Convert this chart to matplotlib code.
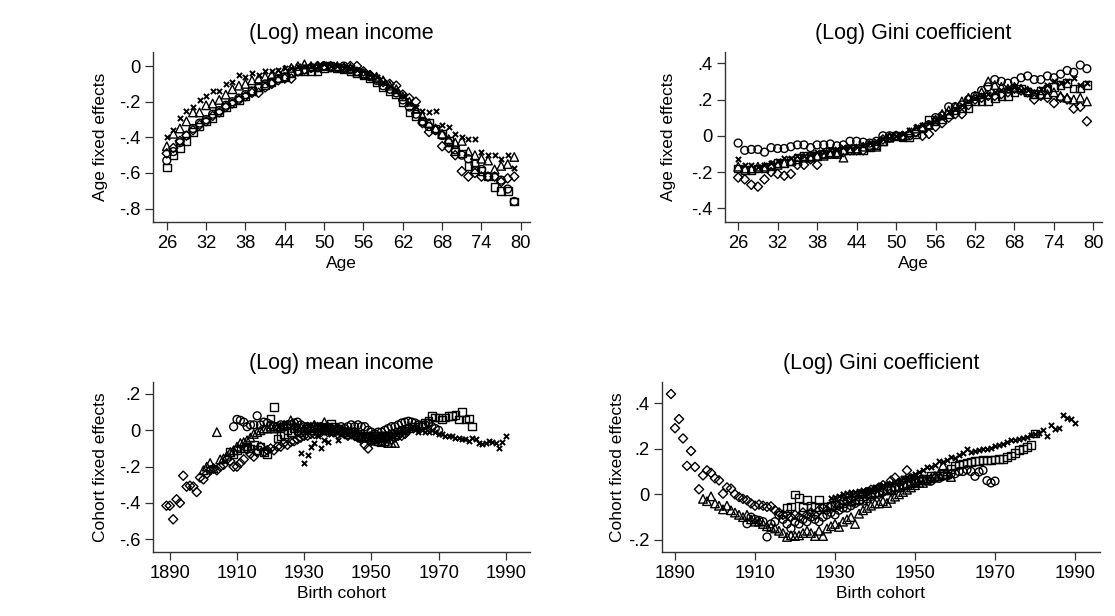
import numpy as np
import matplotlib
matplotlib.use("Agg")
import matplotlib.pyplot as plt

plt.rcParams['font.family'] = ['Liberation Sans', 'DejaVu Sans']

# ---- age profiles (ages 26..79) ----
ages = list(range(26, 80))

inc_circle = [-0.53, -0.48, -0.43, -0.39, -0.35, -0.32, -0.30, -0.27, -0.25, -0.22, -0.20, -0.18, -0.16, -0.14,
              -0.12, -0.10, -0.09, -0.07, -0.06, -0.04, -0.03, -0.02, -0.01, -0.01, 0.0, -0.01, -0.01, 0.0,
              -0.02, -0.03, -0.05, -0.06, -0.08, -0.11, -0.13, -0.15, -0.19, -0.23, -0.27, -0.31, -0.34, -0.36,
              -0.39, -0.43, -0.47, -0.50, -0.52, -0.55, -0.58, -0.62, -0.62, -0.64, -0.69, -0.76]
inc_triangle = [-0.45, -0.38, -0.35, -0.31, -0.26, -0.26, -0.22, -0.21, -0.19, -0.16, -0.13, -0.11, -0.10, -0.08,
                -0.07, -0.06, -0.05, -0.04, -0.02, -0.01, 0.0, 0.01, 0.0, 0.0, 0.0, 0.0, 0.0, -0.01,
                -0.01, -0.03, -0.04, -0.05, -0.06, -0.08, -0.11, -0.13, -0.17, -0.20, -0.24, -0.28, -0.32, -0.35,
                -0.38, -0.41, -0.43, -0.42, -0.48, -0.50, -0.52, -0.53, -0.58, -0.56, -0.55, -0.51]
inc_square = [-0.57, -0.50, -0.46, -0.42, -0.37, -0.34, -0.31, -0.29, -0.26, -0.23, -0.21, -0.19, -0.17, -0.14,
              -0.12, -0.11, -0.09, -0.07, -0.06, -0.04, -0.03, -0.03, -0.03, -0.03, -0.01, 0.0, -0.01, -0.02,
              -0.03, -0.04, -0.05, -0.07, -0.09, -0.12, -0.14, -0.16, -0.20, -0.26, -0.28, -0.31, -0.32, -0.35,
              -0.38, -0.42, -0.48, -0.49, -0.56, -0.58, -0.59, -0.62, -0.68, -0.70, -0.70, -0.76]
inc_diamond = [-0.49, -0.46, -0.42, -0.39, -0.36, -0.33, -0.31, -0.28, -0.26, -0.23, -0.21, -0.19, -0.17, -0.15,
               -0.15, -0.12, -0.10, -0.08, -0.07, -0.07, -0.03, -0.02, -0.01, 0.0, 0.0, 0.0, -0.01, -0.01,
               0.0, 0.0, -0.03, -0.05, -0.07, -0.09, -0.10, -0.11, -0.16, -0.18, -0.20, -0.32, -0.37, -0.36,
               -0.45, -0.46, -0.50, -0.59, -0.62, -0.60, -0.62, -0.62, -0.62, -0.65, -0.63, -0.62]
inc_cross = [-0.40, -0.36, -0.29, -0.25, -0.23, -0.19, -0.17, -0.14, -0.14, -0.10, -0.09, -0.05, -0.06, -0.04,
             -0.05, -0.03, -0.03, -0.02, -0.01, -0.01, 0.0, 0.0, 0.0, 0.0, 0.01, 0.0, 0.0, -0.01,
             -0.01, -0.02, -0.03, -0.05, -0.06, -0.09, -0.11, -0.14, -0.17, -0.21, -0.23, -0.25, -0.26, -0.25,
             -0.33, -0.34, -0.38, -0.40, -0.41, -0.41, -0.48, -0.50, -0.50, -0.52, -0.50, -0.57]

gini_circle = [-0.04, -0.08, -0.075, -0.075, -0.09, -0.065, -0.07, -0.07, -0.06, -0.05, -0.05, -0.065, -0.05, -0.05,
               -0.045, -0.055, -0.05, -0.03, -0.03, -0.035, -0.04, -0.03, 0.0, 0.0, 0.0, -0.005, 0.0, 0.02,
               0.04, 0.06, 0.10, 0.11, 0.16, 0.16, 0.17, 0.20, 0.22, 0.25, 0.27, 0.31, 0.30, 0.29,
               0.30, 0.32, 0.33, 0.31, 0.31, 0.33, 0.32, 0.34, 0.36, 0.35, 0.39, 0.37]
gini_triangle = [-0.17, -0.18, -0.18, -0.17, -0.17, -0.16, -0.16, -0.15, -0.14, -0.13, -0.12, -0.12, -0.11, -0.11,
                 -0.10, -0.10, -0.12, -0.08, -0.07, -0.06, -0.05, -0.06, -0.03, -0.01, 0.0, 0.0, 0.02, 0.04,
                 0.05, 0.06, 0.09, 0.12, 0.14, 0.16, 0.19, 0.21, 0.22, 0.24, 0.30, 0.28, 0.27, 0.26,
                 0.27, 0.26, 0.25, 0.23, 0.23, 0.23, 0.24, 0.22, 0.21, 0.20, 0.21, 0.19]
gini_square = [-0.18, -0.19, -0.19, -0.18, -0.18, -0.17, -0.15, -0.15, -0.14, -0.12, -0.11, -0.11, -0.11, -0.10,
               -0.09, -0.09, -0.08, -0.07, -0.08, -0.08, -0.06, -0.05, -0.03, -0.01, 0.0, -0.01, -0.01, 0.01,
               0.04, 0.09, 0.08, 0.09, 0.12, 0.14, 0.15, 0.15, 0.19, 0.19, 0.19, 0.21, 0.22, 0.22,
               0.24, 0.26, 0.24, 0.23, 0.25, 0.26, 0.27, 0.28, 0.29, 0.26, 0.26, 0.28]
gini_diamond = [-0.23, -0.24, -0.27, -0.28, -0.24, -0.20, -0.21, -0.22, -0.21, -0.16, -0.16, -0.13, -0.16, -0.10,
                -0.10, -0.10, -0.09, -0.08, -0.08, -0.08, -0.06, -0.05, -0.02, -0.01, 0.0, 0.0, 0.01, 0.02,
                0.0, 0.01, 0.05, 0.07, 0.10, 0.12, 0.12, 0.17, 0.20, 0.21, 0.22, 0.22, 0.23, 0.24,
                0.26, 0.25, 0.24, 0.20, 0.22, 0.21, 0.18, 0.21, 0.20, 0.15, 0.16, 0.08]
gini_cross = [-0.13, -0.16, -0.16, -0.17, -0.16, -0.15, -0.14, -0.12, -0.12, -0.11, -0.11, -0.10, -0.09, -0.09,
              -0.08, -0.07, -0.06, -0.06, -0.06, -0.05, -0.04, -0.03, -0.02, -0.01, 0.0, 0.01, 0.03, 0.05,
              0.06, 0.07, 0.09, 0.11, 0.13, 0.15, 0.17, 0.19, 0.21, 0.22, 0.23, 0.24, 0.25, 0.26,
              0.27, 0.25, 0.25, 0.24, 0.26, 0.28, 0.30, 0.29, 0.30, 0.32, 0.28, 0.29]

# ---- cohort profiles: (first cohort, values) ----
coh_inc = {
    'circle': (1909, [0.02, 0.06, 0.055, 0.045, 0.02, 0.03, 0.03, 0.08, 0.03, 0.045, 0.04, 0.03, 0.02, 0.02, 0.03,
                      0.02, 0.03, 0.03, 0.04, 0.045, 0.03, 0.02, 0.02, 0.01, 0.02, 0.01, 0.02, 0.01, 0.0, 0.01,
                      0.0, 0.01, 0.02, 0.01, 0.02, 0.03, 0.02, 0.03, 0.02, 0.02, 0.0, -0.01, -0.02, -0.01, -0.01,
                      0.0, 0.01, 0.02, 0.02, 0.03, 0.04, 0.045, 0.05, 0.045, 0.04, 0.03, 0.02, 0.03, 0.04, 0.02,
                      0.01, 0.0]),
    'triangle': (1900, [-0.22, -0.20, -0.18, -0.21, -0.01, -0.16, -0.155, -0.14, -0.12, -0.11, -0.09, -0.07, -0.065,
                        -0.055, -0.04, -0.02, -0.01, 0.0, 0.01, 0.01, 0.02, 0.01, 0.02, 0.02, 0.03, 0.03, 0.055,
                        0.03, 0.02, 0.02, 0.01, 0.02, 0.02, 0.03, 0.02, 0.02, 0.045, 0.02, 0.01, 0.0, 0.01, 0.0,
                        -0.01, 0.0, -0.01, -0.02, -0.02, -0.03, -0.04, -0.04, -0.05, -0.05, -0.06, -0.065, -0.06,
                        -0.07, -0.07, -0.07]),
    'square': (1908, [-0.12, -0.13, -0.11, -0.10, -0.10, -0.09, -0.10, -0.08, -0.11, -0.09, -0.12, -0.13, 0.065,
                      0.127, -0.045, -0.03, -0.02, 0.0, -0.01, 0.01, 0.0, -0.01, 0.0, 0.01, 0.0, 0.01, 0.02,
                      0.01, 0.0, 0.02, 0.035, 0.02, 0.01, 0.0, -0.01, -0.02, -0.01, -0.02, -0.03, -0.03, -0.04,
                      -0.03, -0.04, -0.05, -0.04, -0.04, -0.03, -0.03, -0.02, -0.02, -0.01, 0.0, 0.0, 0.01, 0.02,
                      0.02, 0.03, 0.03, 0.04, 0.05, 0.08, 0.07, 0.07, 0.06, 0.07, 0.08, 0.08, 0.085, 0.06, 0.10,
                      0.06, 0.065, 0.02]),
    'diamond': (1889, [-0.415, -0.415, -0.49, -0.38, -0.40, -0.25, -0.31, -0.305, -0.31, -0.34, -0.26, -0.27, -0.24,
                       -0.22, -0.21, -0.22, -0.20, -0.19, -0.16, -0.17, -0.20, -0.20, -0.18, -0.16, -0.105, -0.13,
                       -0.145, -0.12, -0.09, -0.12, -0.11, -0.10, -0.11, -0.09, -0.09, -0.07, -0.08, -0.065, -0.06,
                       -0.05, -0.04, -0.03, -0.03, -0.02, -0.02, -0.01, -0.01, 0.0, -0.01, 0.0, -0.01, -0.02,
                       -0.01, -0.02, -0.03, -0.02, -0.03, -0.04, -0.05, -0.08, -0.10, -0.06, -0.05, -0.05, -0.06,
                       -0.05, -0.04, -0.05, -0.04, -0.03, -0.03, -0.02]),
    'cross': (1929, [-0.125, -0.18, -0.135, -0.09, -0.07, -0.03, -0.10, -0.055, -0.065, -0.02, -0.01, -0.055, -0.02,
                     0.0, -0.01, -0.02, -0.01, -0.02, -0.02, -0.03, -0.02, -0.02, -0.03, -0.02, -0.02, -0.03,
                     -0.02, -0.02, -0.01, -0.01, 0.0, -0.01, 0.0, 0.01, 0.0, -0.01, 0.0, -0.01, -0.01, 0.0,
                     -0.01, -0.02, -0.02, -0.03, -0.03, -0.03, -0.04, -0.04, -0.05, -0.05, -0.06, -0.045, -0.05,
                     -0.07, -0.075, -0.07, -0.06, -0.065, -0.07, -0.10, -0.065, -0.03]),
}

coh_gini = {
    'circle': (1908, [-0.129, -0.10, -0.11, -0.114, -0.12, -0.187, -0.13, -0.12, -0.092, -0.11, -0.13, -0.15, -0.12,
                      -0.13, -0.11, -0.12, -0.10, -0.11, -0.12, -0.10, -0.09, -0.08, -0.09, -0.07, -0.06, -0.06,
                      -0.05, -0.04, -0.03, -0.03, -0.02, -0.01, 0.0, 0.0, 0.01, 0.02, 0.02, 0.03, 0.03, 0.04,
                      0.04, 0.05, 0.05, 0.06, 0.06, 0.06, 0.058, 0.07, 0.07, 0.08, 0.08, 0.09, 0.09, 0.10, 0.10,
                      0.108, 0.10, 0.079, 0.098, 0.105, 0.06, 0.05, 0.058]),
    'triangle': (1897, [-0.02, -0.03, -0.009, -0.04, -0.05, -0.066, -0.05, -0.07, -0.08, -0.09, -0.10, -0.09, -0.11,
                        -0.12, -0.12, -0.13, -0.14, -0.143, -0.15, -0.16, -0.17, -0.187, -0.18, -0.183, -0.18,
                        -0.17, -0.16, -0.17, -0.183, -0.16, -0.183, -0.15, -0.14, -0.13, -0.143, -0.12, -0.11,
                        -0.10, -0.13, -0.085, -0.07, -0.06, -0.05, -0.04, -0.04, -0.03, -0.038, -0.02, -0.01, 0.0,
                        0.01, 0.02, 0.03, 0.04, 0.05, 0.05, 0.06, 0.07, 0.08, 0.09, 0.127, 0.10, 0.076]),
    'square': (1918, [-0.06, -0.053, 0.0, -0.015, -0.056, -0.026, -0.05, -0.056, -0.026, -0.056, -0.053, -0.05,
                      -0.048, -0.04, -0.04, -0.03, -0.03, -0.025, -0.02, -0.01, 0.003, 0.0, 0.01, 0.01, 0.02,
                      0.02, 0.02, 0.03, 0.03, 0.04, 0.04, 0.05, 0.06, 0.06, 0.07, 0.07, 0.08, 0.08, 0.08, 0.09,
                      0.09, 0.11, 0.127, 0.13, 0.135, 0.14, 0.142, 0.145, 0.145, 0.15, 0.149, 0.15, 0.152, 0.155,
                      0.156, 0.164, 0.17, 0.18, 0.193, 0.20, 0.208, 0.215, 0.266]),
    'diamond': (1889, [0.44, 0.29, 0.33, 0.245, 0.125, 0.19, 0.12, 0.022, 0.083, 0.105, 0.094, 0.07, 0.061, 0.003,
                       0.03, 0.025, 0.0, -0.012, -0.02, -0.026, -0.04, -0.05, -0.045, -0.05, -0.055, -0.053, -0.07,
                       -0.08, -0.09, -0.09, -0.10, -0.09, -0.10, -0.08, -0.09, -0.08, -0.09, -0.07, -0.06, -0.07,
                       -0.05, -0.04, -0.05, -0.03, -0.03, -0.02, -0.01, 0.0, 0.0, 0.01, 0.02, 0.02, 0.03, 0.04,
                       0.03, 0.06, 0.073, 0.05, 0.06, 0.105, 0.07, 0.06]),
    'cross': (1929, [-0.015, -0.01, -0.009, 0.0, 0.005, 0.01, 0.012, 0.015, 0.018, 0.02, 0.025, 0.03, 0.035, 0.04,
                     0.045, 0.05, 0.055, 0.06, 0.07, 0.075, 0.08, 0.09, 0.10, 0.105, 0.12, 0.12, 0.13, 0.146,
                     0.14, 0.15, 0.164, 0.16, 0.171, 0.18, 0.197, 0.186, 0.19, 0.193, 0.197, 0.20, 0.205, 0.21,
                     0.215, 0.22, 0.23, 0.237, 0.24, 0.244, 0.248, 0.251, 0.26, 0.266, 0.27, 0.281, 0.254, 0.303,
                     0.288, 0.292, 0.346, 0.336, 0.332, 0.314]),
}

age_ticks = [26, 32, 38, 44, 50, 56, 62, 68, 74, 80]
coh_ticks = [1890, 1910, 1930, 1950, 1970, 1990]

# marker styles: (marker, size, linewidth)
styles = {
    'circle': ('o', 32, 1.0),
    'triangle': ('^', 38, 1.0),
    'square': ('s', 30, 1.0),
    'diamond': ('D', 22, 1.0),
    'cross': ('x', 14, 1.4),
}

W, H = 1115, 616
fig = plt.figure(figsize=(W / 100, H / 100), dpi=100)


def box(l, t, r, b):
    return [l / W, 1 - b / H, (r - l) / W, (b - t) / H]


def draw(ax, series, title, xlabel, ylabel, xticks, xlim, yticks, ylabels, ylim, ylab_x):
    for name in ['circle', 'triangle', 'square', 'diamond', 'cross']:
        xs, ys = series[name]
        m, s, lw = styles[name]
        if m == 'x':
            ax.scatter(xs, ys, marker=m, s=s, c='k', linewidths=lw)
        else:
            ax.scatter(xs, ys, marker=m, s=s, facecolors='none', edgecolors='k', linewidths=lw)
    ax.set_xlim(*xlim)
    ax.set_ylim(*ylim)
    ax.set_xticks(xticks)
    ax.set_yticks(yticks)
    ax.set_yticklabels(ylabels)
    ax.spines['top'].set_visible(False)
    ax.spines['right'].set_visible(False)
    for sp in ['left', 'bottom']:
        ax.spines[sp].set_linewidth(1.0)
        ax.spines[sp].set_color('#333333')
    ax.tick_params(direction='out', length=6, width=0.9, color='#333333', labelsize=13.2, pad=3)
    ax.set_title(title, fontsize=15.5, pad=9)
    ax.set_xlabel(xlabel, fontsize=12.5, labelpad=3)
    ax.set_ylabel(ylabel, fontsize=12.5)
    # y label baseline position given in pixels
    l, b, w, h = ax.get_position().bounds
    ax.yaxis.set_label_coords((ylab_x / W - l) / w, 0.5)


def cohort(d):
    out = {}
    for k, (start, vals) in d.items():
        out[k] = (list(range(start, start + len(vals))), vals)
    return out


ax1 = fig.add_axes(box(153, 52, 530, 222))
draw(ax1, {'circle': (ages, inc_circle), 'triangle': (ages, inc_triangle), 'square': (ages, inc_square),
           'diamond': (ages, inc_diamond), 'cross': (ages, inc_cross)},
     '(Log) mean income', 'Age', 'Age fixed effects', age_ticks, (23.9, 81.4),
     [0, -0.2, -0.4, -0.6, -0.8], ['0', '-.2', '-.4', '-.6', '-.8'], (-0.875, 0.079), 108)

ax2 = fig.add_axes(box(725, 52, 1102, 222))
draw(ax2, {'circle': (ages, gini_circle), 'triangle': (ages, gini_triangle), 'square': (ages, gini_square),
           'diamond': (ages, gini_diamond), 'cross': (ages, gini_cross)},
     '(Log) Gini coefficient', 'Age', 'Age fixed effects', age_ticks, (24.0, 81.3),
     [0.4, 0.2, 0, -0.2, -0.4], ['.4', '.2', '0', '-.2', '-.4'], (-0.475, 0.462), 676)

ax3 = fig.add_axes(box(153, 382, 530, 552))
draw(ax3, cohort(coh_inc), '(Log) mean income', 'Birth cohort', 'Cohort fixed effects', coh_ticks,
     (1885.0, 1997.2), [0.2, 0, -0.2, -0.4, -0.6], ['.2', '0', '-.2', '-.4', '-.6'], (-0.67, 0.266), 108)

ax4 = fig.add_axes(box(662, 382, 1100, 552))
draw(ax4, cohort(coh_gini), '(Log) Gini coefficient', 'Birth cohort', 'Cohort fixed effects', coh_ticks,
     (1886.75, 1996.25), [0.4, 0.2, 0, -0.2], ['.4', '.2', '0', '-.2'], (-0.253, 0.4925), 625)

fig.savefig('out.png', dpi=100, facecolor='white')
